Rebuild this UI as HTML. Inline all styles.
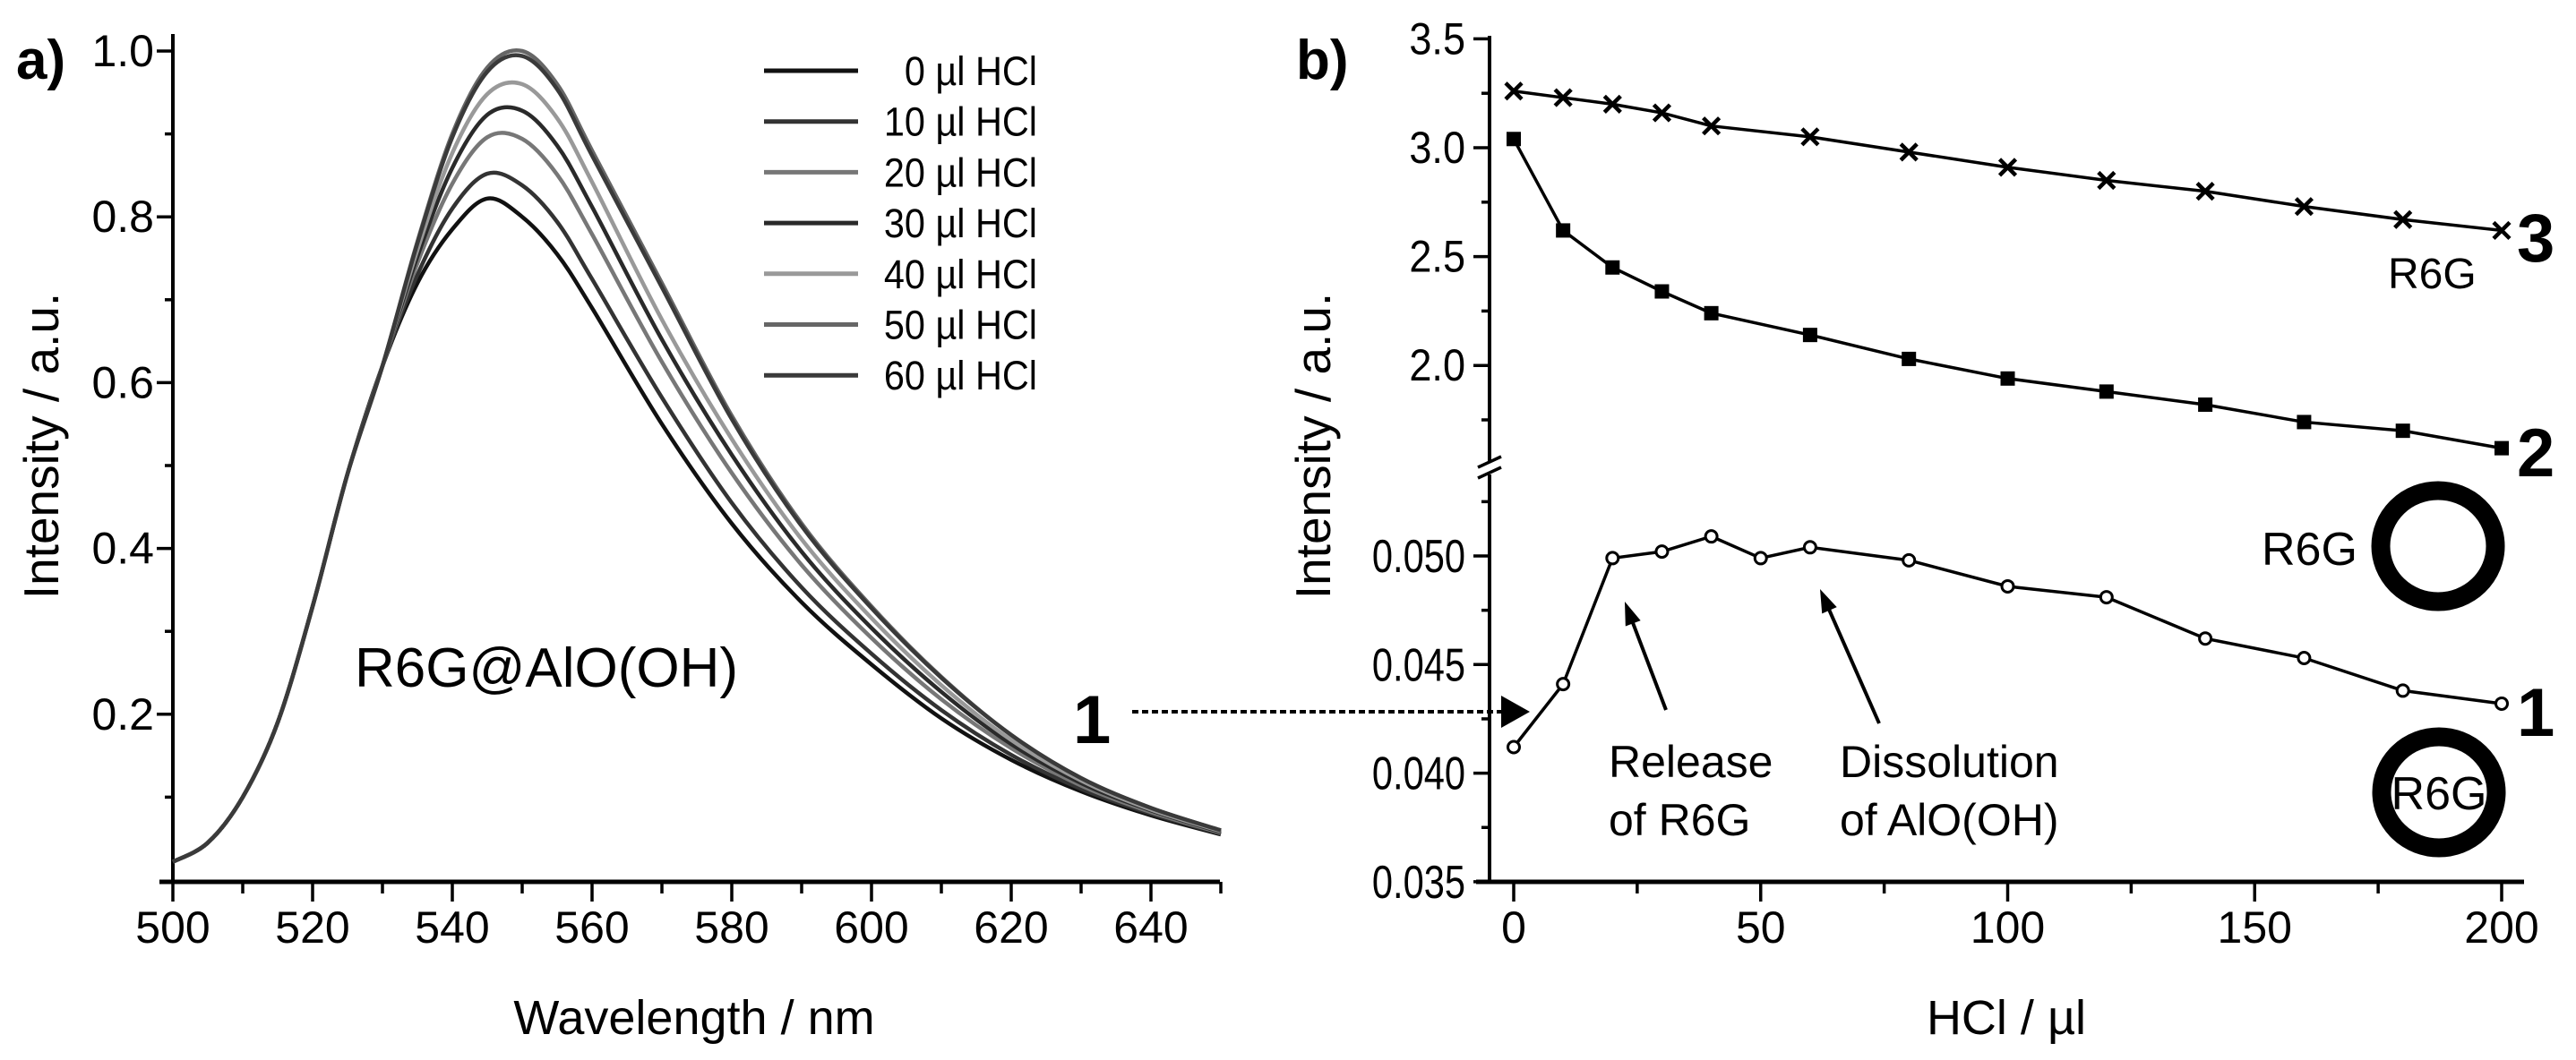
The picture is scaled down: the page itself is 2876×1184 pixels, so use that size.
<!DOCTYPE html>
<html><head><meta charset="utf-8"><style>
html,body{margin:0;padding:0;background:#fff;}
svg{display:block;font-family:"Liberation Sans",Arial,sans-serif;}
</style></head><body>
<svg id="fig" width="2876" height="1184" viewBox="0 0 2876 1184" xmlns="http://www.w3.org/2000/svg"></svg>
<script>
// ---------- Panel a data ----------
const wavelengths = [500,505,510,515,520,525,530,535,540,545,550,555,560,570,580,590,600,610,620,630,640,650];
const hclLabels = ["0 µl HCl","10 µl HCl","20 µl HCl","30 µl HCl","40 µl HCl","50 µl HCl","60 µl HCl"];
const spec0  = [0.022,0.045,0.10,0.19,0.33,0.49,0.62,0.72,0.785,0.822,0.80,0.755,0.69,0.55,0.43,0.335,0.26,0.195,0.145,0.107,0.078,0.055];
const spec10 = [0.022,0.045,0.10,0.19,0.33,0.49,0.62,0.73,0.81,0.852,0.838,0.794,0.725,0.582,0.455,0.353,0.273,0.205,0.151,0.110,0.080,0.056];
const spec20 = [0.022,0.045,0.10,0.19,0.33,0.49,0.62,0.744,0.84,0.896,0.894,0.851,0.779,0.625,0.491,0.380,0.292,0.218,0.159,0.114,0.082,0.057];
const spec30 = [0.022,0.045,0.10,0.19,0.33,0.49,0.62,0.752,0.859,0.923,0.928,0.886,0.812,0.652,0.513,0.396,0.304,0.227,0.164,0.117,0.084,0.058];
const spec40 = [0.022,0.045,0.10,0.19,0.33,0.49,0.62,0.76,0.877,0.948,0.96,0.919,0.842,0.676,0.532,0.411,0.316,0.235,0.169,0.120,0.085,0.059];
const spec50 = [0.022,0.045,0.10,0.19,0.33,0.49,0.62,0.77,0.90,0.98,1.0,0.96,0.88,0.72,0.56,0.43,0.33,0.245,0.175,0.123,0.087,0.06];
const spec60 = [0.022,0.045,0.10,0.19,0.33,0.49,0.62,0.768,0.896,0.975,0.994,0.954,0.874,0.715,0.556,0.427,0.328,0.244,0.175,0.123,0.087,0.06];
const aXTicks = [500,520,540,560,580,600,620,640];
const aYTicks = [0.2,0.4,0.6,0.8,1.0];
// ---------- Panel b data ----------
const hclX3 = [0,10,20,30,40,60,80,100,120,140,160,180,200];
const series3 = [3.26,3.23,3.20,3.16,3.10,3.05,2.98,2.91,2.85,2.80,2.73,2.67,2.62];
const hclX2 = [0,10,20,30,40,60,80,100,120,140,160,180,200];
const series2 = [3.04,2.62,2.45,2.34,2.24,2.14,2.03,1.94,1.88,1.82,1.74,1.70,1.62];
const hclX1 = [0,10,20,30,40,50,60,80,100,120,140,160,180,200];
const series1 = [0.0412,0.0441,0.0499,0.0502,0.0509,0.0499,0.0504,0.0498,0.0486,0.0481,0.0462,0.0453,0.0438,0.0432];
const bXTicks = [0,50,100,150,200];
const bUpperTicks = ["2.0","2.5","3.0","3.5"];
const bLowerTicks = ["0.035","0.040","0.045","0.050"];

const NS="http://www.w3.org/2000/svg";
const svg=document.getElementById('fig');
function mk(tag,attrs,parent){const e=document.createElementNS(NS,tag);for(const k in attrs)e.setAttribute(k,attrs[k]);(parent||svg).appendChild(e);return e;}
function txt(s,attrs,parent){const e=mk('text',attrs,parent);e.textContent=s;return e;}

// ===== Panel a axes =====
const ax=v=>193+(v-500)*7.8;
const ay=v=>983-v*926;
const gA=mk('g',{});


let e=txt('a)',{x:18,y:88,'font-size':62,'font-weight':'bold'},gA);

e=mk('line',{x1:193,y1:38,x2:193,y2:985,stroke:'#000','stroke-width':4},gA);

e=mk('line',{x1:178,y1:985,x2:1362,y2:985,stroke:'#000','stroke-width':5},gA);

for(let w=500;w<=650;w+=10){const maj=(w%20===0);mk('line',{x1:ax(w),y1:985,x2:ax(w),y2:maj?1007:998,stroke:'#000','stroke-width':3.5},gA);}
aXTicks.forEach(t=>{e=txt(String(t),{x:ax(t),y:1053,'font-size':50,'text-anchor':'middle'},gA);});
for(let v=0.1;v<=1.01;v+=0.1){const maj=Math.round(v*10)%2===0;mk('line',{x1:193,y1:ay(v),x2:maj?175:184,y2:ay(v),stroke:'#000','stroke-width':3.5},gA);}
aYTicks.forEach(t=>{e=txt(t.toFixed(1),{x:172,y:ay(t)+17,'font-size':50,'text-anchor':'end'},gA);});
e=txt('Intensity / a.u.',{x:0,y:0,'font-size':55,'text-anchor':'middle',transform:'translate(65,498) rotate(-90)'},gA);

e=txt('Wavelength / nm',{x:775,y:1155,'font-size':54,'text-anchor':'middle'},gA);

e=txt('R6G@AlO(OH)',{x:396,y:767,'font-size':62},gA);


function smooth(pts){let d=`M${pts[0][0]},${pts[0][1]}`;for(let i=0;i<pts.length-1;i++){const p0=pts[i-1]||pts[i],p1=pts[i],p2=pts[i+1],p3=pts[i+2]||p2;const c1=[p1[0]+(p2[0]-p0[0])/6,p1[1]+(p2[1]-p0[1])/6],c2=[p2[0]-(p3[0]-p1[0])/6,p2[1]-(p3[1]-p1[1])/6];d+=` C${c1[0]},${c1[1]} ${c2[0]},${c2[1]} ${p2[0]},${p2[1]}`;}return d;}
const specs=[spec0,spec10,spec20,spec30,spec40,spec50,spec60];
const colors=['#111','#333','#777','#2a2a2a','#999','#666','#3a3a3a'];
const names=['spectrum-0ul','spectrum-10ul','spectrum-20ul','spectrum-30ul','spectrum-40ul','spectrum-50ul','spectrum-60ul'];
specs.forEach((s,i)=>{const pts=s.map((v,j)=>[ax(wavelengths[j]),ay(v)]);e=mk('path',{d:smooth(pts),fill:'none',stroke:colors[i],'stroke-width':4.5},gA);});
// legend
hclLabels.forEach((l,i)=>{const y=79+i*56.7;
 const g=mk('g',{},gA);
 mk('line',{x1:853,y1:y,x2:958,y2:y,stroke:colors[i],'stroke-width':5},g);
 const t=txt(l,{x:1158,y:y+16,'font-size':45,'text-anchor':'end'},g);t.setAttribute('data-cond','0.92');});
e=txt('1',{x:1198,y:830,'font-size':76,'font-weight':'bold'},gA);


// ===== Panel b =====
const bx=v=>1690+v*5.515;
const byU=v=>165-(v-3.0)*243.2;
const byL=v=>621-(v-0.050)*24260;
const gB=mk('g',{});


e=txt('b)',{x:1447,y:88,'font-size':62,'font-weight':'bold'},gB);

e=mk('line',{x1:1663,y1:40,x2:1663,y2:515,stroke:'#000','stroke-width':4},gB);

e=mk('line',{x1:1663,y1:530,x2:1663,y2:985,stroke:'#000','stroke-width':4},gB);

e=mk('path',{d:'M1650,522 L1676,510 M1650,534 L1676,522',stroke:'#000','stroke-width':3.5,fill:'none'},gB);

e=mk('line',{x1:1648,y1:985,x2:2818,y2:985,stroke:'#000','stroke-width':5},gB);

for(let v=0;v<=200;v+=25){const maj=v%50===0;mk('line',{x1:bx(v),y1:985,x2:bx(v),y2:maj?1007:998,stroke:'#000','stroke-width':3.5},gB);}
bXTicks.forEach(t=>{e=txt(String(t),{x:bx(t),y:1053,'font-size':50,'text-anchor':'middle'},gB);});
for(let v=1.75;v<=3.51;v+=0.25){const maj=Math.abs(v*2-Math.round(v*2))<0.01;mk('line',{x1:1663,y1:byU(v),x2:maj?1645:1654,y2:byU(v),stroke:'#000','stroke-width':3.5},gB);}
bUpperTicks.forEach(t=>{e=txt(t,{x:1636,y:byU(parseFloat(t))+17,'font-size':50,'text-anchor':'end'},gB);e.setAttribute('data-cond','0.9');});
for(let v=0.035;v<=0.0526;v+=0.0025){const maj=Math.abs(v*200-Math.round(v*200))<0.01;mk('line',{x1:1663,y1:byL(v),x2:maj?1645:1654,y2:byL(v),stroke:'#000','stroke-width':3.5},gB);}
bLowerTicks.forEach(t=>{e=txt(t,{x:1636,y:byL(parseFloat(t))+18,'font-size':52,'text-anchor':'end'},gB);e.setAttribute('data-cond','0.8');});
e=txt('Intensity / a.u.',{x:0,y:0,'font-size':55,'text-anchor':'middle',transform:'translate(1485,498) rotate(-90)'},gB);

e=txt('HCl / µl',{x:2240,y:1155,'font-size':54,'text-anchor':'middle'},gB);


function poly(xs,ys,fx,fy,name){const p=xs.map((x,i)=>`${fx(x)},${fy(ys[i])}`).join(' ');const el=mk('polyline',{points:p,fill:'none',stroke:'#000','stroke-width':3.5},gB);}
poly(hclX3,series3,bx,byU,'series-3-line');
hclX3.forEach((x,i)=>{const cx=bx(x),cy=byU(series3[i]);const m=mk('path',{d:`M${cx-9},${cy-9}L${cx+9},${cy+9}M${cx-9},${cy+9}L${cx+9},${cy-9}`,stroke:'#000','stroke-width':4.5,fill:'none'},gB);});
poly(hclX2,series2,bx,byU,'series-2-line');
hclX2.forEach((x,i)=>{const m=mk('rect',{x:bx(x)-8,y:byU(series2[i])-8,width:16,height:16,fill:'#000'},gB);});
poly(hclX1,series1,bx,byL,'series-1-line');
hclX1.forEach((x,i)=>{const m=mk('circle',{cx:bx(x),cy:byL(series1[i]),r:6.5,fill:'#fff',stroke:'#000','stroke-width':3},gB);});

e=txt('3',{x:2810,y:292,'font-size':76,'font-weight':'bold'},gB);
e=txt('2',{x:2810,y:532,'font-size':76,'font-weight':'bold'},gB);
e=txt('1',{x:2810,y:822,'font-size':76,'font-weight':'bold'},gB);
e=txt('R6G',{x:2666,y:322,'font-size':48},gB);
e=mk('ellipse',{cx:2722,cy:610,rx:64,ry:62,fill:'none',stroke:'#000','stroke-width':21},gB);
e=txt('R6G',{x:2525,y:631,'font-size':52},gB);
e=mk('ellipse',{cx:2723,cy:885,rx:64,ry:62,fill:'none',stroke:'#000','stroke-width':21},gB);
e=txt('R6G',{x:2723,y:904,'font-size':52,'text-anchor':'middle'},gB);

// arrows
e=mk('line',{x1:1264,y1:795,x2:1682,y2:795,stroke:'#000','stroke-width':4,'stroke-dasharray':'7,4'},svg);

e=mk('path',{d:'M1676,777 L1708,795 L1676,813 Z',fill:'#000'},svg);

function arrow(x1,y1,x2,y2,name){const g=mk('g',{},gB);
 const a=Math.atan2(y2-y1,x2-x1),L=26,W=9;mk('line',{x1:x1,y1:y1,x2:x2-Math.cos(a)*L*0.8,y2:y2-Math.sin(a)*L*0.8,stroke:'#000','stroke-width':4},g);
 const bxp=x2-Math.cos(a)*L,byp=y2-Math.sin(a)*L;mk('path',{d:`M${x2},${y2} L${bxp-Math.sin(a)*W},${byp+Math.cos(a)*W} L${bxp+Math.sin(a)*W},${byp-Math.cos(a)*W} Z`,fill:'#000'},g);}
arrow(1860,793,1814,672,'release-arrow');
arrow(2098,808,2032,658,'dissolution-arrow');
e=txt('Release',{x:1796,y:868,'font-size':50},gB);
e=txt('of R6G',{x:1796,y:933,'font-size':50},gB);
e=txt('Dissolution',{x:2054,y:868,'font-size':50},gB);
e=txt('of AlO(OH)',{x:2054,y:933,'font-size':50},gB);

// condense selected labels
document.querySelectorAll('text[data-cond]').forEach(t=>{const f=parseFloat(t.getAttribute('data-cond'));const L=t.getComputedTextLength();t.setAttribute('textLength',(L*f).toFixed(1));t.setAttribute('lengthAdjust','spacingAndGlyphs');});
</script>
</body></html>
